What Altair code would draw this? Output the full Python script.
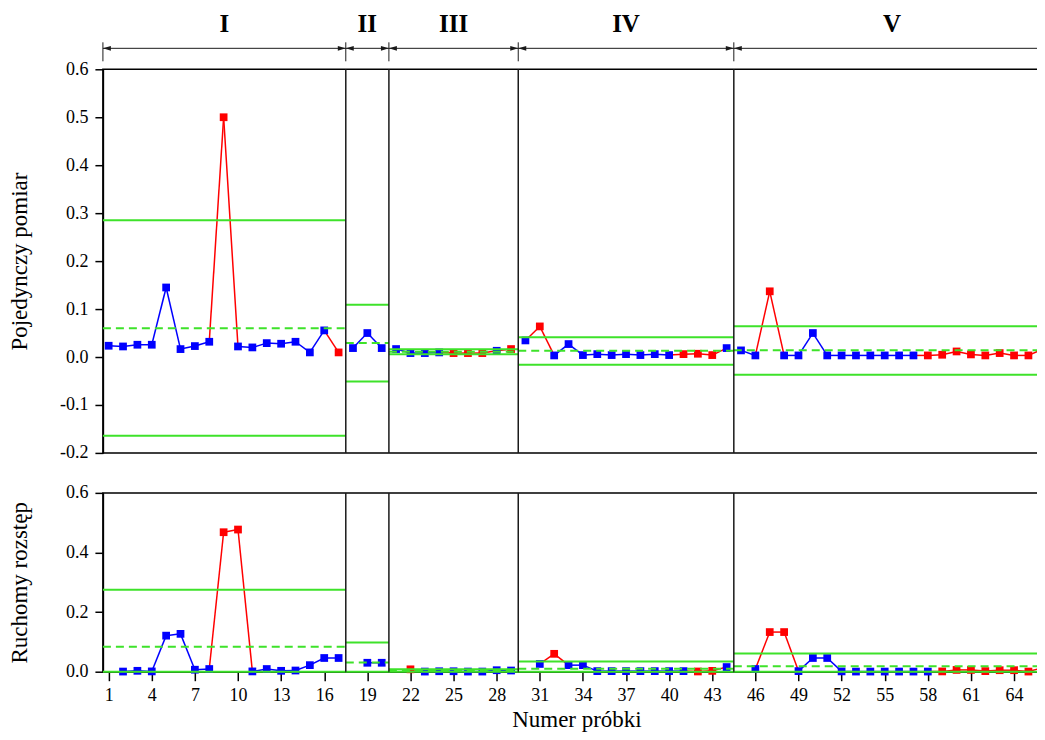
import altair as alt
import pandas as pd

# ---------------- data ----------------
samples = list(range(1, 67))

individual = [
    0.0235, 0.022, 0.0256, 0.0256, 0.145, 0.0165, 0.0228, 0.0318, 0.500, 0.022,
    0.020, 0.029, 0.0277, 0.0318, 0.0096, 0.0555, 0.0096,
    0.0186, 0.050, 0.0186,
    0.0166, 0.0082, 0.0082, 0.0096, 0.0082, 0.0082, 0.0082, 0.013, 0.0166,
    0.0346, 0.0638, 0.0033, 0.027, 0.004, 0.006, 0.004, 0.006, 0.004, 0.006,
    0.004, 0.006, 0.0068, 0.004, 0.0186,
    0.0138, 0.0033, 0.137, 0.0033, 0.0033, 0.050, 0.0033, 0.0033, 0.0033, 0.0033,
    0.0033, 0.0033, 0.0033, 0.0033, 0.0047, 0.0116, 0.0054, 0.0033, 0.0082, 0.0033,
    0.0033, 0.0166,
]

moving_range = [
    None, 0.0005, 0.003, 0.001, 0.121, 0.127, 0.0067, 0.009, 0.468, 0.477,
    0.001, 0.009, 0.003, 0.004, 0.022, 0.046, 0.046,
    None, 0.030, 0.030,
    None, 0.008, 0.0005, 0.0015, 0.0015, 0.0005, 0.0005, 0.005, 0.004,
    None, 0.026, 0.060, 0.022, 0.022, 0.002, 0.002, 0.002, 0.002, 0.002,
    0.002, 0.002, 0.0008, 0.0028, 0.0156,
    None, 0.009, 0.133, 0.133, 0.002, 0.046, 0.046, 0.001, 0.0005, 0.0005,
    0.0005, 0.0005, 0.0005, 0.0005, 0.001, 0.006, 0.006, 0.002, 0.005, 0.005,
    0.0005, 0.013,
]

ind_out = [9, 17, 25, 26, 27, 29, 31, 41, 42, 43, 47, 58, 59, 60, 61, 62, 63, 64, 65]
mr_out = [9, 10, 22, 32, 42, 43, 47, 48, 59, 60, 61, 62, 63, 64, 65, 66]

region_names = ["I", "II", "III", "IV", "V"]
region_start = [0.6, 17.5, 20.5, 29.5, 44.5]
region_end = [17.5, 20.5, 29.5, 44.5, 66.5]

ind_ucl = [0.285, 0.109, 0.016, 0.041, 0.064]
ind_cl = [0.060, 0.029, 0.011, 0.013, 0.014]
ind_lcl = [-0.164, -0.051, 0.006, -0.016, -0.037]

mr_ucl = [0.275, 0.098, 0.008, 0.0345, 0.061]
mr_cl = [0.084, 0.031, 0.0025, 0.010, 0.018]
mr_lcl = [0.0, 0.0, 0.0, 0.0, 0.0]

x_ticks = list(range(1, 65, 3))
ind_ticks = [-0.2, -0.1, 0.0, 0.1, 0.2, 0.3, 0.4, 0.5, 0.6]
mr_ticks = [0.0, 0.2, 0.4, 0.6]

# ---------------- styling ----------------
BLUE = "#0000ff"
RED = "#ff0000"
GREEN = "#3ee22a"
DARK = "#1a1a1a"
FONT = "Liberation Serif"


def region_of(n):
    for i, (a, b) in enumerate(zip(region_start, region_end)):
        if a < n < b:
            return i
    return -1


def build(values, out):
    pts, segs = [], []
    for n, v in zip(samples, values):
        if v is not None:
            pts.append({"n": n, "v": v, "state": "out" if n in out else "in"})
    for i in range(len(samples) - 1):
        n1, n2 = samples[i], samples[i + 1]
        v1, v2 = values[i], values[i + 1]
        if v1 is None or v2 is None or region_of(n1) != region_of(n2):
            continue
        segs.append({"n": n1, "v": v1, "n2": n2, "v2": v2,
                     "state": "out" if (n1 in out or n2 in out) else "in"})
    return pd.DataFrame(pts), pd.DataFrame(segs)


def limits(ucl, cl, lcl):
    solid, dashed = [], []
    for a, b, u, c, l in zip(region_start, region_end, ucl, cl, lcl):
        solid.append({"n": a, "n2": b, "v": u})
        solid.append({"n": a, "n2": b, "v": l})
        dashed.append({"n": a, "n2": b, "v": c})
    return pd.DataFrame(solid), pd.DataFrame(dashed)


ind_pts, ind_segs = build(individual, ind_out)
mr_pts, mr_segs = build(moving_range, mr_out)
ind_solid, ind_dash = limits(ind_ucl, ind_cl, ind_lcl)
mr_solid, mr_dash = limits(mr_ucl, mr_cl, mr_lcl)

inner_bounds = pd.DataFrame({"n": region_start[1:]})
all_bounds = pd.DataFrame({"n": region_start + [region_end[-1]]})
header = pd.DataFrame({
    "name": region_names,
    "n": region_start,
    "n2": region_end,
    "mid": [(a + b) / 2 for a, b in zip(region_start, region_end)],
})

xscale = alt.Scale(domain=[0.6, 66.5], nice=False, zero=False)
cscale = alt.Scale(domain=["in", "out"], range=[BLUE, RED])
label_expr = "datum.value < 0 ? '-' + format(-datum.value, '.1f') : format(datum.value, '.1f')"


def panel(pts, segs, solid, dash, ydomain, yticks, ytitle, xaxis, height, extra=None):
    yscale = alt.Scale(domain=ydomain, nice=False, zero=False)
    yaxis = alt.Axis(values=yticks, title=ytitle, labelExpr=label_expr, tickSize=8,
                     labelPadding=7, titleX=-76, titleBaseline="alphabetic",
                     titleAlign="center", titleAngle=270)

    def X(f):
        return alt.X(f"{f}:Q", scale=xscale, axis=xaxis)

    def Y(f):
        return alt.Y(f"{f}:Q", scale=yscale, axis=yaxis)

    seg_layer = alt.Chart(segs).mark_rule(strokeWidth=1.5).encode(
        x=X("n"), x2="n2", y=Y("v"), y2="v2",
        color=alt.Color("state:N", scale=cscale, legend=None))
    pt_layer = alt.Chart(pts).mark_square(size=60, opacity=1).encode(
        x=X("n"), y=Y("v"),
        color=alt.Color("state:N", scale=cscale, legend=None))
    solid_layer = alt.Chart(solid).mark_rule(color=GREEN, strokeWidth=2).encode(
        x=X("n"), x2="n2", y=Y("v"))
    dash_layer = alt.Chart(dash).mark_rule(color=GREEN, strokeWidth=2, strokeDash=[8, 5]).encode(
        x=X("n"), x2="n2", y=Y("v"))
    bound_layer = alt.Chart(inner_bounds).mark_rule(color=DARK, strokeWidth=1.5).encode(
        x=X("n"))
    layers = [seg_layer, pt_layer, solid_layer, dash_layer, bound_layer]
    if extra:
        layers += extra
    return alt.layer(*layers).properties(width=948, height=height)


# header (region brackets above the top panel)
hx = lambda f: alt.X(f"{f}:Q", scale=xscale, axis=None)
head_line = alt.Chart(header).mark_rule(color=DARK, strokeWidth=1).encode(
    x=hx("n"), x2="n2", y=alt.value(-21))
head_ticks = alt.Chart(all_bounds).mark_rule(color=DARK, strokeWidth=1).encode(
    x=hx("n"), y=alt.value(-27), y2=alt.value(-8))
head_left = alt.Chart(header).mark_point(
    shape="M0,0L1,-0.3L1,0.3Z", size=256, filled=True, color=DARK, opacity=1
).encode(x=hx("n"), y=alt.value(-21))
head_right = alt.Chart(header).mark_point(
    shape="M0,0L-1,-0.3L-1,0.3Z", size=256, filled=True, color=DARK, opacity=1
).encode(x=hx("n2"), y=alt.value(-21))
head_text = alt.Chart(header).mark_text(
    font=FONT, fontSize=25, fontWeight="bold", baseline="alphabetic", color="black"
).encode(x=hx("mid"), y=alt.value(-37), text="name:N")

top = panel(ind_pts, ind_segs, ind_solid, ind_dash, [-0.2, 0.6], ind_ticks,
            "Pojedynczy pomiar", None, 384,
            extra=[head_line, head_ticks, head_left, head_right, head_text])

bottom_xaxis = alt.Axis(values=x_ticks, title="Numer próbki", format="d", tickSize=9,
                        labelPadding=20, labelBaseline="alphabetic",
                        titleBaseline="alphabetic", titleY=55, labelFlush=False)
bottom = panel(mr_pts, mr_segs, mr_solid, mr_dash, [0.0, 0.6], mr_ticks,
               "Ruchomy rozstęp", bottom_xaxis, 179)

chart = alt.vconcat(top, bottom, spacing=40, bounds="flush").properties(
    padding={"left": 0, "top": 3, "right": -15, "bottom": -1}
).configure_axis(
    labelFont=FONT, titleFont=FONT, labelFontSize=18, titleFontSize=23,
    labelColor="black", titleColor="black", titleFontWeight="normal",
    domainColor="black", tickColor="black", domainWidth=1.5, tickWidth=1.5, grid=False,
).configure_view(stroke="black", strokeWidth=1.5)

chart.save("out.html", embed_options={"renderer": "svg", "actions": False})
